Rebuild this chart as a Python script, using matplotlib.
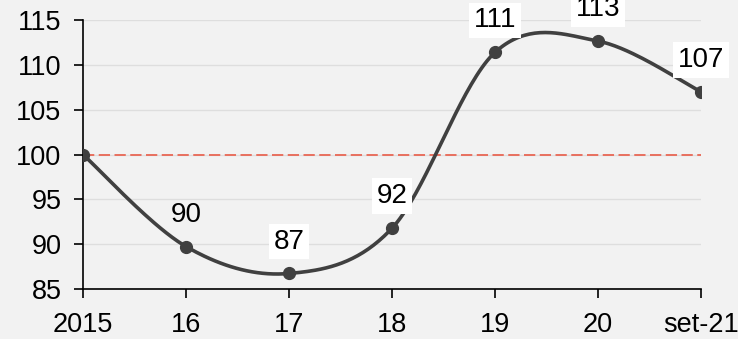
import numpy as np
import matplotlib

matplotlib.use("Agg")
import matplotlib.pyplot as plt

# index values, base 2015 = 100
periods = ["2015", "16", "17", "18", "19", "20", "set-21"]
index_values = [100.0, 89.75, 86.75, 91.8, 111.4, 112.65, 107.0]
labels = ["", "90", "87", "92", "111", "113", "107"]
baseline = 100
y_ticks = [85, 90, 95, 100, 105, 110, 115]

BG = "#f2f2f2"
LINE = "#404040"


def smooth_curve(x, y, steps=40):
    # cubic Bezier through the points, Catmull-Rom style tangents
    x = np.asarray(x, float)
    y = np.asarray(y, float)
    n = len(x)
    xs, ys = [], []
    for i in range(n - 1):
        p0 = i - 1 if i > 0 else i
        p3 = i + 2 if i + 2 < n else i + 1
        mx1 = (x[i + 1] - x[p0]) / 2
        my1 = (y[i + 1] - y[p0]) / 2
        mx2 = (x[p3] - x[i]) / 2
        my2 = (y[p3] - y[i]) / 2
        cx = [x[i], x[i] + mx1 / 3, x[i + 1] - mx2 / 3, x[i + 1]]
        cy = [y[i], y[i] + my1 / 3, y[i + 1] - my2 / 3, y[i + 1]]
        t = np.linspace(0, 1, steps)
        b = [(1 - t) ** 3, 3 * (1 - t) ** 2 * t, 3 * (1 - t) * t ** 2, t ** 3]
        xs.append(sum(bi * c for bi, c in zip(b, cx)))
        ys.append(sum(bi * c for bi, c in zip(b, cy)))
    return np.concatenate(xs), np.concatenate(ys)


plt.rcParams["font.family"] = ["Liberation Sans", "DejaVu Sans"]

fig = plt.figure(figsize=(7.38, 3.39), dpi=100, facecolor=BG)
ax = fig.add_axes([0.1125, 0.147, 0.8375, 0.794], facecolor=BG)

xpos = np.arange(len(periods))
for v in y_ticks:
    ax.axhline(v, color="#dedede", lw=1.0, zorder=0)
ax.axhline(baseline, color="#e8705f", lw=1.4, dashes=(5.8, 2.3), zorder=1)

sx, sy = smooth_curve(xpos, index_values)
ax.plot(sx, sy, color=LINE, lw=2.6, zorder=3, solid_capstyle="round")
ax.plot(xpos, index_values, "o", color=LINE, ms=8.5, zorder=4)

for i, (v, lab) in enumerate(zip(index_values, labels)):
    if not lab:
        continue
    box = None if i == 1 else dict(facecolor="white", edgecolor="none", pad=3.5)
    ax.annotate(lab, (xpos[i], v), xytext=(0, 23), textcoords="offset points",
                ha="center", va="center", fontsize=20, bbox=box,
                annotation_clip=False, zorder=5)

ax.set_xlim(0, len(periods) - 1)
ax.set_ylim(85, 115)
ax.set_xticks(xpos)
ax.set_xticklabels(periods)
ax.set_yticks(y_ticks)
ax.tick_params(axis="both", length=6.5, width=1.2, color="black")
ax.tick_params(axis="x", labelsize=19.5, pad=10)
ax.tick_params(axis="y", labelsize=19.5, pad=9)
for side in ("top", "right"):
    ax.spines[side].set_visible(False)
for side in ("left", "bottom"):
    ax.spines[side].set_linewidth(1.2)

fig.savefig("out.png", dpi=100, facecolor=BG)
